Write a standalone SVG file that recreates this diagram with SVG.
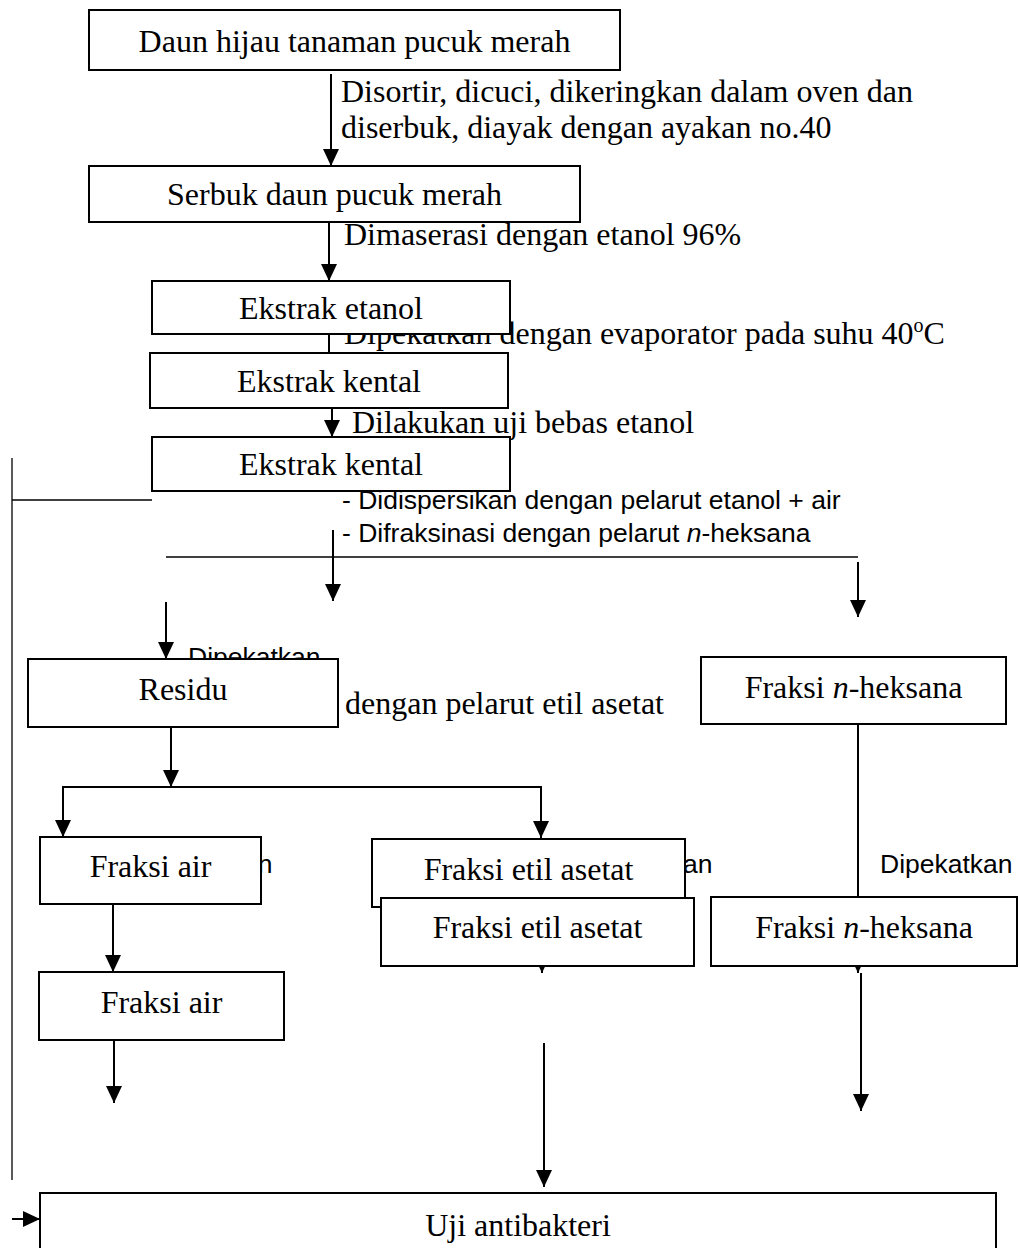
<svg xmlns="http://www.w3.org/2000/svg" width="1020" height="1248" viewBox="0 0 1020 1248">
<defs>
<marker id="ah" viewBox="0 0 17 16" refX="17" refY="8" markerWidth="17" markerHeight="16" markerUnits="userSpaceOnUse" orient="auto">
<path d="M0,0 L17,8 L0,16 Z" fill="#000"/>
</marker>
<style>
.box{fill:#fff;stroke:#000;stroke-width:2}
.t{font-family:"Liberation Serif","Times New Roman",serif;font-size:32px;fill:#000}
.tc{text-anchor:middle}
.s{font-family:"Liberation Sans",Arial,sans-serif;font-size:26.5px;fill:#000}
.ln{stroke:#000;stroke-width:2;fill:none}
.arr{marker-end:url(#ah)}
.thin{stroke:#000;stroke-width:1.3;fill:none}
</style>
</defs>
<rect width="1020" height="1248" fill="#fff"/>
<g id="connectors">
<line class="ln arr" x1="331" y1="74" x2="331" y2="166"/>
<line class="ln arr" x1="329" y1="222" x2="329" y2="281"/>
<line class="ln" x1="329" y1="334" x2="329" y2="353"/>
<line class="ln arr" x1="332" y1="408" x2="332" y2="437"/>
<line class="thin" x1="12" y1="458" x2="12" y2="1180"/>
<line class="thin" x1="12" y1="500" x2="152" y2="500"/>
<line class="ln arr" x1="12" y1="1219" x2="40" y2="1219"/>
<line class="ln arr" x1="333" y1="530" x2="333" y2="601"/>
<line class="thin" x1="166" y1="557" x2="858" y2="557"/>
<line class="ln arr" x1="858" y1="562" x2="858" y2="617"/>
<line class="ln arr" x1="166" y1="602" x2="166" y2="659"/>
<line class="ln arr" x1="171" y1="727" x2="171" y2="787"/>
<polyline class="ln" points="63,799 63,787 541,787 541,799"/>
<line class="ln arr" x1="63" y1="790" x2="63" y2="837"/>
<line class="ln arr" x1="541" y1="790" x2="541" y2="838"/>
<line class="ln" x1="858" y1="724" x2="858" y2="897"/>
<line class="ln arr" x1="113" y1="904" x2="113" y2="972"/>
<line class="ln arr" x1="114" y1="1040" x2="114" y2="1103"/>
<line class="ln arr" x1="542" y1="930" x2="542" y2="973"/>
<line class="ln arr" x1="544" y1="1043" x2="544" y2="1187"/>
<line class="ln arr" x1="858" y1="930" x2="858" y2="973"/>
<line class="ln arr" x1="861" y1="973" x2="861" y2="1111"/>
</g>
<g id="labels">
<text class="t" x="341" y="102">Disortir, dicuci, dikeringkan dalam oven dan</text>
<text class="t" x="341" y="138">diserbuk, diayak dengan ayakan no.40</text>
<text class="t" x="344" y="245">Dimaserasi dengan etanol 96%</text>
<text class="t" x="344" y="344">Dipekatkan dengan evaporator pada suhu 40<tspan dy="-12" font-size="20">o</tspan><tspan dy="12">C</tspan></text>
<text class="t" x="352" y="433">Dilakukan uji bebas etanol</text>
<text class="s" x="342" y="509">- Didispersikan dengan pelarut etanol + air</text>
<text class="s" x="342" y="542">- Difraksinasi dengan pelarut <tspan font-style="italic">n</tspan>-heksana</text>
<text class="s" x="188" y="666">Dipekatkan</text>
<text class="t" x="345" y="714">dengan pelarut etil asetat</text>
<text class="s" x="140" y="873">Dipekatkan</text>
<text class="s" x="580" y="873">Dipekatkan</text>
<text class="s" x="880" y="873">Dipekatkan</text>
</g>
<g id="n1"><rect class="box" x="89" y="10" width="531" height="60"/><text class="t tc" x="354.5" y="52">Daun hijau tanaman pucuk merah</text></g>
<g id="n2"><rect class="box" x="89" y="166" width="491" height="56"/><text class="t tc" x="334.5" y="205">Serbuk daun pucuk merah</text></g>
<g id="n3"><rect class="box" x="152" y="281" width="358" height="53"/><text class="t tc" x="331" y="319">Ekstrak etanol</text></g>
<g id="n4"><rect class="box" x="150" y="353" width="358" height="55"/><text class="t tc" x="329" y="392">Ekstrak kental</text></g>
<g id="n5"><rect class="box" x="152" y="437" width="358" height="54"/><text class="t tc" x="331" y="475">Ekstrak kental</text></g>
<g id="residu"><rect class="box" x="28" y="659" width="310" height="68"/><text class="t tc" x="183" y="700">Residu</text></g>
<g id="heksana1"><rect class="box" x="701" y="657" width="305" height="67"/><text class="t tc" x="853.5" y="698">Fraksi <tspan font-style="italic">n</tspan>-heksana</text></g>
<g id="air1"><rect class="box" x="40" y="837" width="221" height="67"/><text class="t tc" x="150.5" y="877">Fraksi air</text></g>
<g id="etil1"><rect class="box" x="372" y="839" width="313" height="68"/><text class="t tc" x="528.5" y="880">Fraksi etil asetat</text></g>
<g id="etil2"><rect class="box" x="381" y="898" width="313" height="68"/><text class="t tc" x="537.5" y="938">Fraksi etil asetat</text></g>
<g id="heksana2"><rect class="box" x="711" y="897" width="306" height="69"/><text class="t tc" x="864" y="938">Fraksi <tspan font-style="italic">n</tspan>-heksana</text></g>
<g id="air2"><rect class="box" x="39" y="972" width="245" height="68"/><text class="t tc" x="161.5" y="1013">Fraksi air</text></g>
<g id="uji"><rect class="box" x="40" y="1193" width="956" height="70"/><text class="t tc" x="518" y="1236">Uji antibakteri</text></g>
</svg>
